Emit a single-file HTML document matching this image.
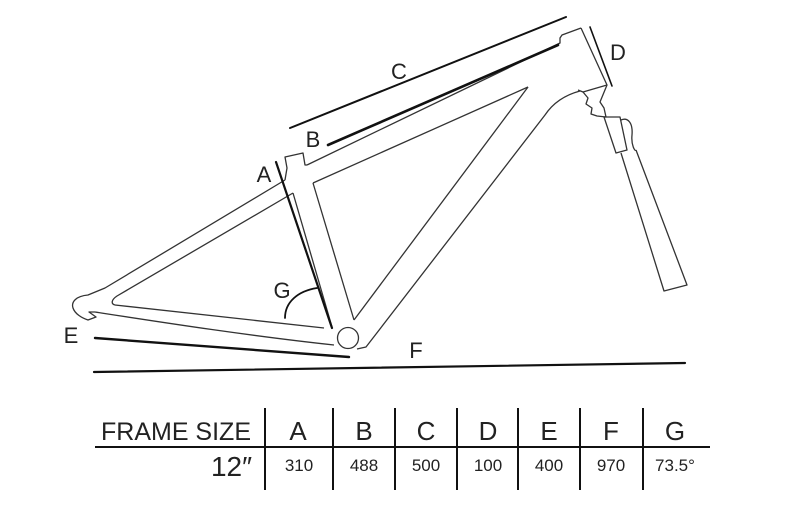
<!DOCTYPE html>
<html><head><meta charset="utf-8"><style>
html,body{margin:0;padding:0;background:#fff;width:800px;height:532px;overflow:hidden}
svg{display:block}
text{font-family:"Liberation Sans",sans-serif;fill:#222}
</style></head><body>
<svg width="800" height="532" viewBox="0 0 800 532">
<g fill="none" stroke="#333" stroke-width="1.3" stroke-linejoin="round">
<path d="M285 180 L287 168 L285 157 L303 153 L305 165 L307 165"/>
<path d="M307 165 L560 43 L560 38 L562 35 L581 28"/>
<path d="M313 183 L528 87"/>
<path d="M581 28 L607 85 L583 92 L578 90"/>
<path d="M580 91 C565 95 553 103 545 115 L366 347 L357 349"/>
<path d="M528 87 L354 320"/>
<path d="M293 193 L332 327"/>
<path d="M313 183 L354 320"/>
<path d="M285 180 L105 288 L88 295 C76 296 71 302 73 308 C75 314 82 318 88 320 L96 317 L89 312 L95 312"/>
<path d="M293 193 L117 296 C111 300 111 304 115 305"/>
<path d="M115 305 C180 312 250 320 324 328"/>
<path d="M95 312 C160 322 250 336 334 345"/>
<circle cx="348" cy="338" r="10.5"/>
<path d="M583 92 L588 98 L586 104 L592 108 L591 114 L597 116 L606 117 L604 108 L600 102 L607 85"/>
<path d="M604 117 L616 153 L627 150 L620 117 Z"/>
<path d="M621 120 C628 117 633 123 632 135 C631 145 635 152 636 150"/>
<path d="M621 153 L664 291 L687 285 L636 150"/>
</g>
<g stroke="#111" fill="none" stroke-linecap="round">
<path d="M290 128 L566 17" stroke-width="2"/>
<path d="M328 145 L558 45" stroke-width="2.6"/>
<path d="M276 162 L332 328" stroke-width="2.2"/>
<path d="M590 27 L612 86" stroke-width="1.6"/>
<path d="M95 338 L349 357" stroke-width="2.4"/>
<path d="M94 372 L685 363" stroke-width="2.2"/>
<path d="M285 318 C285 302 298 291 317 288" stroke-width="1.8"/>
</g>
<g font-size="22" text-anchor="middle">
<text x="399" y="79">C</text>
<text x="313" y="147">B</text>
<text x="264" y="182">A</text>
<text x="618" y="60">D</text>
<text x="71" y="343">E</text>
<text x="416" y="358">F</text>
<text x="282" y="298">G</text>
</g>
<g stroke="#111" stroke-width="2">
<line x1="95" y1="447" x2="710" y2="447"/>
<line x1="265" y1="408" x2="265" y2="490"/>
<line x1="333" y1="408" x2="333" y2="490"/>
<line x1="395" y1="408" x2="395" y2="490"/>
<line x1="457" y1="408" x2="457" y2="490"/>
<line x1="518" y1="408" x2="518" y2="490"/>
<line x1="580" y1="408" x2="580" y2="490"/>
<line x1="643" y1="408" x2="643" y2="490"/>
</g>
<g font-size="26" text-anchor="middle">
<text x="176" y="440" font-size="25" textLength="150" lengthAdjust="spacingAndGlyphs">FRAME SIZE</text>
<text x="298" y="440">A</text>
<text x="364" y="440">B</text>
<text x="426" y="440">C</text>
<text x="488" y="440">D</text>
<text x="549" y="440">E</text>
<text x="611" y="440">F</text>
<text x="675" y="440">G</text>
</g>
<text x="252" y="476" font-size="28" text-anchor="end">12″</text>
<g font-size="17" text-anchor="middle">
<text x="299" y="471">310</text>
<text x="364" y="471">488</text>
<text x="426" y="471">500</text>
<text x="488" y="471">100</text>
<text x="549" y="471">400</text>
<text x="611" y="471">970</text>
<text x="675" y="471">73.5°</text>
</g>
</svg>
</body></html>
